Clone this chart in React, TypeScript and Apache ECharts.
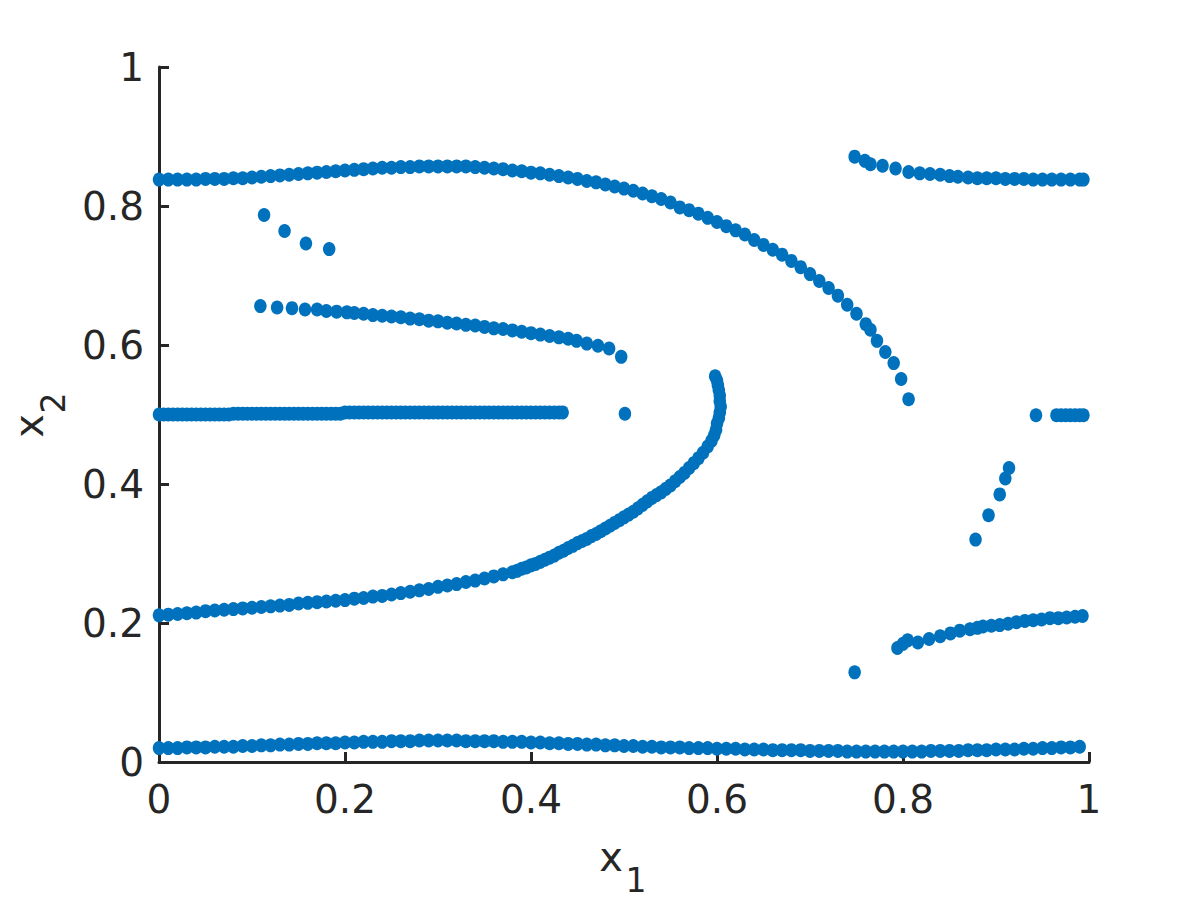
import React, { useEffect, useRef } from 'react';
import * as echarts from 'echarts';

const DOT_COLOR = '#0072BD';
const AXIS_COLOR = '#262626';

// Bottom branch (x2 ~ 0.02)
const bottomBranch: number[][] = [
  [0.00,0.020],[0.01,0.020],[0.02,0.020],[0.03,0.021],[0.04,0.021],[0.05,0.021],[0.06,0.022],[0.07,0.022],[0.08,0.022],[0.09,0.023],
  [0.10,0.023],[0.11,0.024],[0.12,0.024],[0.13,0.025],[0.14,0.025],[0.15,0.026],[0.16,0.026],[0.17,0.027],[0.18,0.027],[0.19,0.027],
  [0.20,0.028],[0.21,0.028],[0.22,0.029],[0.23,0.029],[0.24,0.029],[0.25,0.030],[0.26,0.030],[0.27,0.030],[0.28,0.031],[0.29,0.031],
  [0.30,0.031],[0.31,0.031],[0.32,0.031],[0.33,0.030],[0.34,0.030],[0.35,0.030],[0.36,0.030],[0.37,0.029],[0.38,0.029],[0.39,0.029],
  [0.40,0.028],[0.41,0.028],[0.42,0.027],[0.43,0.027],[0.44,0.026],[0.45,0.026],[0.46,0.025],[0.47,0.025],[0.48,0.024],[0.49,0.024],
  [0.50,0.023],[0.51,0.023],[0.52,0.022],[0.53,0.022],[0.54,0.021],[0.55,0.021],[0.56,0.021],[0.57,0.020],[0.58,0.020],[0.59,0.020],
  [0.60,0.019],[0.61,0.019],[0.62,0.019],[0.63,0.018],[0.64,0.018],[0.65,0.018],[0.66,0.017],[0.67,0.017],[0.68,0.017],[0.69,0.017],
  [0.70,0.016],[0.71,0.016],[0.72,0.016],[0.73,0.016],[0.74,0.015],[0.75,0.015],[0.76,0.015],[0.77,0.015],[0.78,0.015],[0.79,0.015],
  [0.80,0.015],[0.81,0.015],[0.82,0.015],[0.83,0.016],[0.84,0.016],[0.85,0.016],[0.86,0.016],[0.87,0.017],[0.88,0.017],[0.89,0.017],
  [0.90,0.018],[0.91,0.018],[0.92,0.018],[0.93,0.019],[0.94,0.019],[0.95,0.020],[0.96,0.020],[0.97,0.021],[0.98,0.021],[0.99,0.022],
];

// Top branch (x2 ~ 0.84 falling to 0.52)
const topBranch: number[][] = [
  [0.00,0.838],[0.01,0.838],[0.02,0.838],[0.03,0.838],[0.04,0.838],[0.05,0.839],[0.06,0.839],[0.07,0.839],[0.08,0.840],[0.09,0.840],
  [0.10,0.841],[0.11,0.842],[0.12,0.843],[0.13,0.844],[0.14,0.845],[0.15,0.846],[0.16,0.847],[0.17,0.848],[0.18,0.849],[0.19,0.850],
  [0.20,0.851],[0.21,0.852],[0.22,0.853],[0.23,0.854],[0.24,0.855],[0.25,0.855],[0.26,0.856],[0.27,0.856],[0.28,0.857],[0.29,0.857],
  [0.30,0.857],[0.31,0.857],[0.32,0.857],[0.33,0.857],[0.34,0.856],[0.35,0.855],[0.36,0.854],[0.37,0.853],[0.38,0.851],[0.39,0.850],
  [0.40,0.848],[0.41,0.847],[0.42,0.845],[0.43,0.843],[0.44,0.841],[0.45,0.839],[0.46,0.836],[0.47,0.834],[0.48,0.831],[0.49,0.828],
  [0.50,0.825],[0.51,0.822],[0.52,0.818],[0.53,0.814],[0.54,0.810],[0.55,0.805],[0.56,0.798],[0.57,0.794],[0.58,0.789],[0.59,0.783],
  [0.60,0.777],[0.61,0.771],[0.62,0.765],[0.63,0.759],[0.64,0.751],[0.65,0.744],[0.66,0.737],[0.67,0.730],[0.68,0.721],[0.69,0.712],
  [0.70,0.702],[0.71,0.692],[0.72,0.682],[0.73,0.671],[0.74,0.658],[0.75,0.645],[0.76,0.630],[0.765,0.622],[0.772,0.606],[0.781,0.590],
  [0.790,0.574],[0.798,0.551],[0.806,0.522],
];

// Upper-right branch (x2 ~ 0.87 to 0.84)
const upperRightBranch: number[][] = [
  [0.748,0.871],[0.759,0.865],[0.765,0.860],[0.778,0.858],[0.792,0.854],[0.806,0.849],[0.818,0.847],[0.829,0.846],[0.840,0.845],
  [0.850,0.843],[0.859,0.842],[0.870,0.841],[0.880,0.840],[0.890,0.840],[0.900,0.840],[0.910,0.839],[0.920,0.839],[0.930,0.839],
  [0.940,0.838],[0.950,0.838],[0.960,0.838],[0.970,0.838],[0.980,0.838],[0.990,0.838],[0.994,0.838],
];

// Short descending run of dots near x1 ~ 0.11-0.18
const shortRun: number[][] = [
  [0.113,0.787],[0.135,0.764],[0.158,0.746],[0.183,0.738],
];

// Middle branch (x2 ~ 0.655 down to 0.583)
const middleBranch: number[][] = [
  [0.109,0.656],[0.127,0.654],[0.143,0.653],[0.157,0.651],[0.170,0.651],[0.180,0.649],[0.191,0.648],[0.202,0.647],[0.21,0.646],
  [0.22,0.645],[0.23,0.643],[0.24,0.642],[0.25,0.641],[0.26,0.640],[0.27,0.638],[0.28,0.637],[0.29,0.635],[0.30,0.634],[0.31,0.632],
  [0.32,0.631],[0.33,0.629],[0.34,0.628],[0.35,0.626],[0.36,0.624],[0.37,0.623],[0.38,0.621],[0.39,0.619],[0.40,0.617],[0.41,0.615],
  [0.42,0.613],[0.43,0.611],[0.44,0.609],[0.449,0.606],[0.460,0.602],[0.472,0.599],[0.484,0.595],[0.497,0.583],
];

// Horizontal branch at x2 ~ 0.5
const halfLine: number[][] = [
  [0.000,0.500],[0.005,0.500],[0.010,0.500],[0.015,0.500],[0.020,0.500],[0.025,0.500],[0.030,0.500],[0.035,0.500],[0.040,0.500],[0.045,0.500],
  [0.050,0.500],[0.055,0.500],[0.060,0.500],[0.065,0.500],[0.070,0.500],[0.075,0.500],[0.080,0.501],[0.085,0.501],[0.090,0.501],[0.095,0.501],
  [0.100,0.501],[0.105,0.501],[0.110,0.501],[0.115,0.501],[0.120,0.501],[0.125,0.501],[0.130,0.501],[0.135,0.501],[0.140,0.501],[0.145,0.501],
  [0.150,0.501],[0.155,0.501],[0.160,0.501],[0.165,0.501],[0.170,0.501],[0.175,0.501],[0.180,0.501],[0.185,0.501],[0.190,0.501],[0.195,0.501],
  [0.200,0.503],[0.205,0.503],[0.210,0.503],[0.215,0.503],[0.220,0.503],[0.225,0.503],[0.230,0.503],[0.235,0.503],[0.240,0.503],[0.245,0.503],
  [0.250,0.503],[0.255,0.503],[0.260,0.503],[0.265,0.503],[0.270,0.503],[0.275,0.503],[0.280,0.503],[0.285,0.503],[0.290,0.503],[0.295,0.503],
  [0.300,0.503],[0.305,0.503],[0.310,0.503],[0.315,0.503],[0.320,0.503],[0.325,0.503],[0.330,0.503],[0.335,0.503],[0.340,0.503],[0.345,0.503],
  [0.350,0.503],[0.355,0.503],[0.360,0.503],[0.365,0.503],[0.370,0.503],[0.375,0.503],[0.380,0.503],[0.385,0.503],[0.390,0.503],[0.395,0.503],
  [0.400,0.503],[0.405,0.503],[0.410,0.503],[0.415,0.503],[0.420,0.503],[0.425,0.503],[0.430,0.503],[0.434,0.503],
];

// Isolated points at x2 ~ 0.5
const halfDots: number[][] = [
  [0.501,0.501],[0.943,0.499],[0.965,0.499],[0.970,0.499],[0.975,0.499],[0.980,0.499],[0.985,0.499],[0.990,0.499],[0.994,0.499],
];

// Rising curve from (0, 0.21) bending up to (0.6, 0.555)
const bentCurve: number[][] = [
  [0.00,0.211],[0.01,0.212],[0.02,0.213],[0.03,0.214],[0.04,0.215],[0.05,0.217],[0.06,0.218],[0.07,0.219],[0.08,0.220],[0.09,0.221],
  [0.10,0.222],[0.11,0.223],[0.12,0.224],[0.13,0.225],[0.14,0.226],[0.15,0.228],[0.16,0.229],[0.17,0.230],[0.18,0.231],[0.19,0.232],
  [0.20,0.233],[0.21,0.235],[0.22,0.236],[0.23,0.238],[0.24,0.239],[0.25,0.241],[0.26,0.243],[0.27,0.245],[0.28,0.247],[0.29,0.249],
  [0.30,0.252],[0.31,0.254],[0.32,0.256],[0.33,0.259],[0.34,0.261],[0.35,0.264],[0.36,0.267],[0.37,0.270],[0.38,0.273],[0.385,0.275],
  [0.39,0.278],[0.395,0.280],[0.40,0.283],[0.405,0.285],[0.41,0.288],[0.415,0.291],[0.42,0.294],[0.425,0.297],[0.43,0.301],[0.435,0.304],
  [0.44,0.308],[0.445,0.311],[0.45,0.315],[0.455,0.318],[0.46,0.321],[0.465,0.325],[0.47,0.328],
  [0.475,0.332],[0.48,0.336],[0.485,0.340],[0.49,0.344],[0.495,0.348],[0.50,0.352],[0.505,0.356],[0.51,0.360],[0.515,0.365],[0.52,0.370],
  [0.525,0.375],[0.53,0.380],[0.535,0.384],[0.54,0.388],[0.545,0.393],[0.55,0.398],[0.555,0.404],[0.56,0.410],[0.565,0.416],[0.57,0.423],
  [0.575,0.430],[0.58,0.437],[0.585,0.445],[0.59,0.454],[0.594,0.462],[0.597,0.470],[0.599,0.478],[0.600,0.487],[0.602,0.495],[0.603,0.503],
  [0.604,0.511],[0.603,0.519],[0.603,0.527],[0.602,0.535],[0.601,0.542],[0.600,0.549],[0.598,0.555],
];

// Short steep run of dots near x1 ~ 0.88-0.915
const steepRun: number[][] = [
  [0.878,0.320],[0.892,0.355],[0.904,0.385],[0.910,0.408],[0.914,0.423],
];

// Lower-right branch (x2 ~ 0.13 to 0.21)
const lowerRightBranch: number[][] = [
  [0.748,0.129],[0.794,0.164],[0.800,0.170],[0.805,0.175],[0.816,0.172],[0.828,0.177],[0.840,0.181],[0.851,0.185],[0.861,0.189],
  [0.872,0.191],[0.880,0.193],[0.886,0.195],[0.895,0.196],[0.904,0.197],[0.913,0.199],[0.922,0.201],[0.931,0.203],[0.940,0.204],
  [0.949,0.205],[0.958,0.207],[0.967,0.207],[0.976,0.208],[0.985,0.209],[0.993,0.210],
];

const branches = [
  bottomBranch, topBranch, upperRightBranch, shortRun, middleBranch,
  halfLine, halfDots, bentCurve, steepRun, lowerRightBranch,
];

const FONT = '"DejaVu Sans", sans-serif';

export default function App() {
  const ref = useRef<HTMLDivElement>(null);
  useEffect(() => {
    if (!ref.current) return;
    const chart = echarts.init(ref.current, undefined, { renderer: 'svg' });
    const axisCommon = {
      type: 'value' as const,
      min: 0,
      max: 1,
      interval: 0.2,
      splitLine: { show: false },
      axisLine: { show: true, lineStyle: { color: AXIS_COLOR, width: 3 } },
      axisTick: { show: true, inside: true, length: 10, lineStyle: { color: AXIS_COLOR, width: 3 } },
    };
    chart.setOption({
      animation: false,
      backgroundColor: '#ffffff',
      grid: { left: 159, right: 111, top: 67, bottom: 138, containLabel: false },
      xAxis: {
        ...axisCommon,
        axisLabel: { color: AXIS_COLOR, fontSize: 39, fontFamily: FONT, margin: 18 },
      },
      yAxis: {
        ...axisCommon,
        axisLabel: { color: AXIS_COLOR, fontSize: 39, fontFamily: FONT, margin: 15 },
      },
      series: branches.map((d) => ({
        type: 'scatter',
        data: d,
        symbol: 'circle',
        symbolSize: [12.5, 14],
        itemStyle: { color: DOT_COLOR, opacity: 1 },
        silent: true,
      })),
      graphic: [
        { type: 'text', x: 611, y: 857, style: { text: 'x', font: `40px ${FONT}`, fill: AXIS_COLOR, align: 'center', verticalAlign: 'middle' } },
        { type: 'text', x: 636, y: 880, style: { text: '1', font: `33px ${FONT}`, fill: AXIS_COLOR, align: 'center', verticalAlign: 'middle' } },
        { type: 'text', x: 29, y: 426, rotation: Math.PI / 2, style: { text: 'x', font: `40px ${FONT}`, fill: AXIS_COLOR, align: 'center', verticalAlign: 'middle' } },
        { type: 'text', x: 53, y: 403, rotation: Math.PI / 2, style: { text: '2', font: `33px ${FONT}`, fill: AXIS_COLOR, align: 'center', verticalAlign: 'middle' } },
      ],
    });
    return () => chart.dispose();
  }, []);
  return <div ref={ref} style={{ position: 'absolute', left: 0, top: 0, width: 1200, height: 900 }} />;
}
